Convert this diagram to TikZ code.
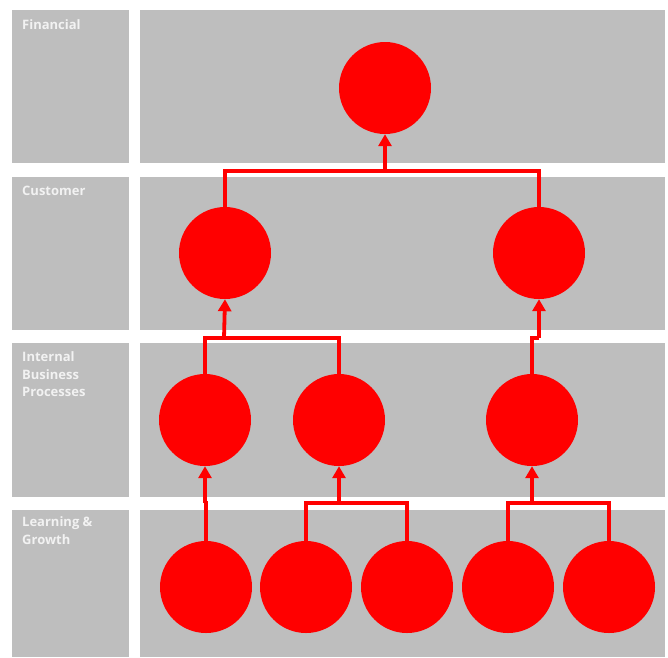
\documentclass[tikz,border=0pt]{standalone}
\usepackage{fontspec}
\setsansfont{Open Sans}
\usepackage{xcolor}
\usetikzlibrary{arrows.meta,positioning,calc}
\definecolor{panelgray}{RGB}{190,190,190}
\definecolor{goalred}{RGB}{255,0,0}

\begin{document}
\begin{tikzpicture}[x=1pt,y=-1pt,
  goal/.style={circle,fill=goalred,minimum size=92pt,inner sep=0pt},
  wire/.style={draw=goalred,line width=3.8pt},
  up/.style={wire,-{Triangle[width=13pt,length=12pt]}},
  rowlabel/.style={anchor=north west,inner sep=0pt,text=white!95!black,align=left,
    font=\sffamily\bfseries\fontsize{13}{17.5}\selectfont}]
\useasboundingbox (0,0) rectangle (668,657);
% perspective bands
\fill[panelgray] (12,10) rectangle (129,163);
\fill[panelgray] (140,10) rectangle (665,163);
\fill[panelgray] (12,177) rectangle (129,330);
\fill[panelgray] (140,177) rectangle (665,330);
\fill[panelgray] (12,343) rectangle (129,497);
\fill[panelgray] (140,343) rectangle (665,497);
\fill[panelgray] (12,510) rectangle (129,657);
\fill[panelgray] (140,510) rectangle (665,657);
\node[rowlabel] (lfin) at (22,19.5) {Financial};
\node[rowlabel] (lcus) at (22,185.5) {Customer};
\node[rowlabel] (libp) at (22,351.5) {Internal\\Business\\Processes};
\node[rowlabel] (llg) at (22,516.5) {Learning \&\\Growth};
% objectives
\node[goal] (fin) at (385,88) {};
\node[goal] (cusL) at (225,253) {};
\node[goal] (cusR) at (539,253) {};
\node[goal] (ibp1) at (205,420) {};
\node[goal] (ibp2) at (339,420) {};
\node[goal] (ibp3) at (532,420) {};
\node[goal] (lg1) at (206,587) {};
\node[goal] (lg2) at (306,587) {};
\node[goal] (lg3) at (407,587) {};
\node[goal] (lg4) at (508,587) {};
\node[goal] (lg5) at (609,587) {};
% junctions
\coordinate (jfin) at (385,171);
\coordinate (jcusL) at (224,338);
\coordinate (jcusR) at (539,338);
\coordinate (jibp1) at (205,503);
\coordinate (jibp2) at (339,503);
\coordinate (jibp3) at (532,503);
% links
\draw[wire] (cusL.north) |- (jfin) -| (cusR.north);
\draw[up] (jfin) -- (fin.south);
\draw[wire] (ibp1.north) |- (jcusL) -| (ibp2.north);
\draw[up] (jcusL) -- (cusL.south);
\draw[wire] (ibp3.north) |- (jcusR);
\draw[up] (jcusR) -- (cusR.south);
\draw[wire] (lg1.north) |- (jibp1);
\draw[up] (jibp1) -- (ibp1.south);
\draw[wire] (lg2.north) |- (jibp2) -| (lg3.north);
\draw[up] (jibp2) -- (ibp2.south);
\draw[wire] (lg4.north) |- (jibp3) -| (lg5.north);
\draw[up] (jibp3) -- (ibp3.south);
\end{tikzpicture}
\end{document}
